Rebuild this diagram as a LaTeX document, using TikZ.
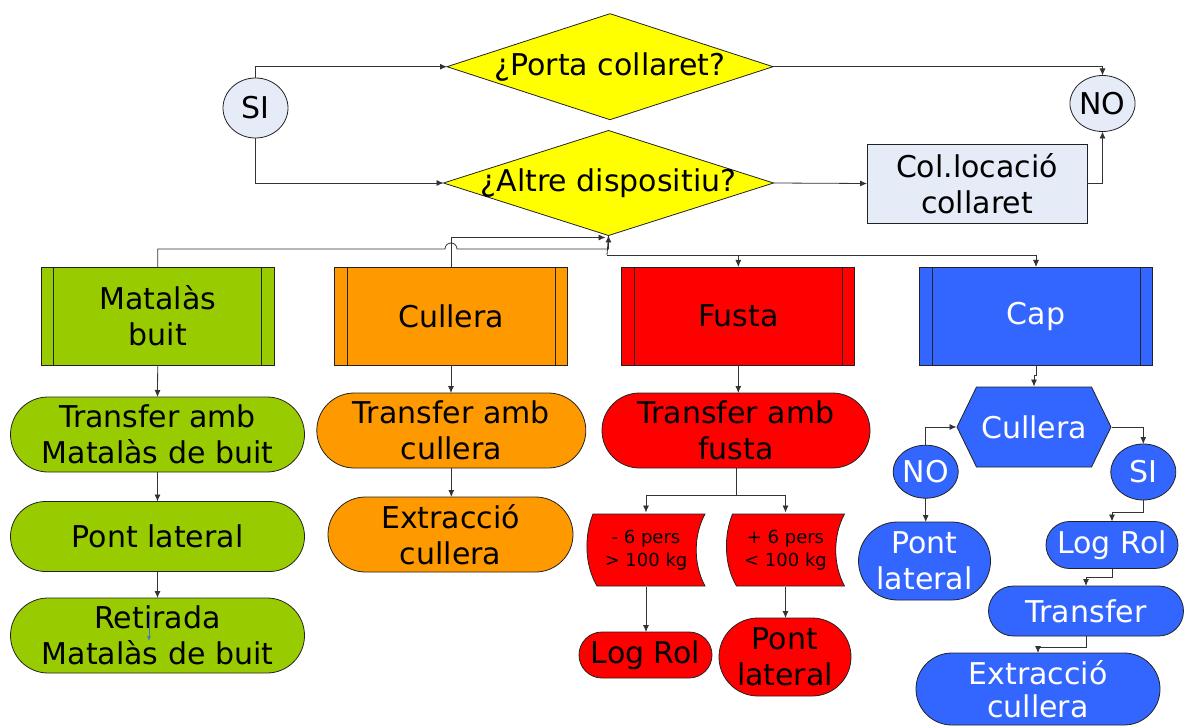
\documentclass[tikz,border=0pt]{standalone}
\usepackage{fontspec}
\setmainfont{DejaVu Sans}
\usetikzlibrary{shapes.geometric,arrows.meta,calc}
\definecolor{ygreen}{HTML}{99CC00}
\definecolor{orng}{HTML}{FF9900}
\definecolor{rred}{HTML}{FF0000}
\definecolor{cblue}{HTML}{3366FF}
\definecolor{lite}{HTML}{E6ECF7}
\definecolor{yel}{HTML}{FFFF00}
\definecolor{edge}{HTML}{222222}
\definecolor{wire}{HTML}{333333}
\begin{document}
\begin{tikzpicture}[x=1pt,y=-1pt,
  txt/.style={font=\fontsize{30}{36}\selectfont, align=center, inner sep=0pt, outer sep=0pt},
  base/.style={txt, draw=edge, line width=0.8pt},
  oval/.style n args={2}{base, ellipse, minimum width=#1, minimum height=#2},
  decision/.style n args={2}{draw=edge, line width=0.8pt, diamond, fill=yel, inner sep=0pt, outer sep=0pt, minimum width=#1, minimum height=#2},
  procbox/.style={base, rectangle, minimum width=233pt, minimum height=98pt,
    path picture={
      \draw[edge, line width=0.8pt] ([xshift=12.5pt]path picture bounding box.north west) -- ([xshift=12.5pt]path picture bounding box.south west);
      \draw[edge, line width=0.8pt] ([xshift=-12.5pt]path picture bounding box.north east) -- ([xshift=-12.5pt]path picture bounding box.south east);}},
  stad/.style n args={3}{base, rectangle, minimum width=#1, minimum height=#2, rounded corners=#3},
  hexnode/.style={txt, rectangle, minimum width=155pt, minimum height=81pt,
    path picture={
      \filldraw[fill=cblue, draw=edge, line width=0.8pt]
        ([xshift=20pt,yshift=-0.5pt]path picture bounding box.north west) --
        ([xshift=-20pt,yshift=-0.5pt]path picture bounding box.north east) --
        ([xshift=-0.5pt]path picture bounding box.east) --
        ([xshift=-20pt,yshift=0.5pt]path picture bounding box.south east) --
        ([xshift=20pt,yshift=0.5pt]path picture bounding box.south west) --
        ([xshift=0.5pt]path picture bounding box.west) -- cycle;}},
  tapenode/.style={rectangle, inner sep=0pt, outer sep=0pt, align=center,
    font=\fontsize{18}{23.5}\selectfont, minimum width=120pt, minimum height=73pt,
    path picture={
      \filldraw[fill=rred, draw=edge, line width=0.8pt]
        ([xshift=7pt,yshift=-0.5pt]path picture bounding box.north west) --
        ([xshift=-1pt,yshift=-0.5pt]path picture bounding box.north east)
        .. controls ([xshift=-12.7pt,yshift=-22pt]path picture bounding box.north east)
           and ([xshift=-12.7pt,yshift=22pt]path picture bounding box.south east) ..
        ([xshift=-1pt,yshift=0.5pt]path picture bounding box.south east) --
        ([xshift=11pt,yshift=0.5pt]path picture bounding box.south west)
        .. controls ([xshift=-1.7pt,yshift=22pt]path picture bounding box.south west)
           and ([xshift=-1.7pt,yshift=-22pt]path picture bounding box.north west) ..
        ([xshift=7pt,yshift=-0.5pt]path picture bounding box.north west) -- cycle;}},
  conn/.style={draw=wire, line width=0.8pt, -{Latex[length=7pt,width=6pt]}},
  plain/.style={draw=wire, line width=0.8pt}
]
\useasboundingbox (0,0) rectangle (1185,727);
\clip (0,0) rectangle (1185,727);

% top part
\node[oval={65pt}{60pt}, fill=lite] (si) at (255.5,108) {SI};
\node[oval={63pt}{56pt}, fill=lite] (no) at (1102.5,103.5) {NO};
\node[decision={326pt}{106pt}] (dia1) at (610,66.7) {};
\node[txt] (dia1t) at (dia1) {¿Porta collaret?};
\node[decision={330pt}{105pt}] (dia2) at (608.5,183) {};
\node[txt] (dia2t) at (dia2) {¿Altre dispositiu?};
\node[base, rectangle, fill=lite, minimum width=220pt, minimum height=79pt] (col) at (977,183.5) {Col.locació\\collaret};

\draw[conn] (si.north) |- (dia1.west);
\draw[conn] (si.south) |- (dia2.west);
\draw[conn] (dia1.east) -| (no.north);
\draw[conn] (dia2.east) -- (col.west);
\draw[conn] (col.east) -| (no.south);

% category boxes
\node[procbox, fill=ygreen] (mat) at (157.7,316) {Matalàs\\buit};
\node[procbox, fill=orng] (cul) at (451,316) {Cullera};
\node[procbox, fill=rred] (fus) at (738.3,316) {Fusta};
\node[procbox, fill=cblue, text=white] (cap) at (1036,316) {Cap};

\coordinate (hop) at (451,249);
\coordinate (fj) at (607,255);
\draw[conn] (mat.north) -- (mat.north |- hop) -- ([xshift=-6pt]hop)
   arc[start angle=180, end angle=0, radius=6pt] -- (dia2.south |- hop) -- (dia2.south);
\draw[conn] (cul.north) |- ($(dia2.south)+(-3,2)$);
\draw[plain] (dia2.south) -- (fj);
\draw[conn] (fj) -| (fus.north);
\draw[conn] (fj) -| (cap.north);

% green column
\node[stad={294pt}{75pt}{37.5pt}, fill=ygreen] (g1) at (157.5,434.5) {Transfer amb\\Matalàs de buit};
\node[stad={294pt}{70pt}{35pt}, fill=ygreen] (g2) at (157.5,536.5) {Pont lateral};
\node[stad={294pt}{75pt}{37.5pt}, fill=ygreen] (g3) at (157.5,635.5) {Retirada\\Matalàs de buit};
\draw[conn] (mat.south) -- (g1.north);
\draw[conn] (g1.south) -- (g2.north);
\draw[conn] (g2.south) -- (g3.north);
\coordinate (bl1) at (149,612);
\coordinate (bl2) at (149,641);
\draw[draw=cblue!70!gray, line width=0.7pt, -{Latex[length=5pt,width=4pt]}] (bl1) -- (bl2);

% orange column
\node[stad={269pt}{75pt}{37.5pt}, fill=orng] (o1) at (451.3,430.5) {Transfer amb\\cullera};
\node[stad={245pt}{75pt}{37.5pt}, fill=orng] (o2) at (450.5,534.5) {Extracció\\cullera};
\draw[conn] (cul.south) -- (cul.south |- o1.north);
\draw[conn] (o1.south) -- (o1.south |- o2.north);

% red column
\node[stad={268pt}{75pt}{37.5pt}, fill=rred] (tf) at (736,430.5) {Transfer amb\\fusta};
\node[tapenode] (tp1) at (646,550) {- 6 pers\\> 100 kg};
\node[tapenode] (tp2) at (785.5,550) {+ 6 pers\\< 100 kg};
\node[stad={133pt}{46pt}{23pt}, fill=rred] (lr) at (645.5,655) {Log Rol};
\node[stad={132pt}{78pt}{39pt}, fill=rred] (pl) at (785,657) {Pont\\lateral};
\coordinate (tj) at (736,495);
\draw[conn] (fus.south) -- (fus.south |- tf.north);
\draw[plain] (tf.south) -- (tj);
\draw[conn] (tj) -| ([yshift=1pt]tp1.north);
\draw[conn] (tj) -| ([yshift=1pt]tp2.north);
\draw[conn] (tp1.south) -- (tp1.south |- lr.north);
\draw[conn] (tp2.south) -- (tp2.south |- pl.north);

% blue column
\node[hexnode, text=white] (hex) at (1034,427) {Cullera};
\node[oval={63pt}{53pt}, fill=cblue, text=white] (no2) at (925.7,471.7) {NO};
\node[oval={65pt}{56pt}, fill=cblue, text=white] (si2) at (1143.3,472) {SI};
\node[stad={132pt}{78pt}{39pt}, fill=cblue, text=white] (pl2) at (924.5,561) {Pont\\lateral};
\node[stad={132pt}{47pt}{23.5pt}, fill=cblue, text=white] (lr2) at (1112,545) {Log Rol};
\node[stad={195pt}{50pt}{25pt}, fill=cblue, text=white] (tr2) at (1086,611) {Transfer};
\node[stad={244pt}{72pt}{36pt}, fill=cblue, text=white, font=\fontsize{30}{33}\selectfont] (ex2) at (1038,689) {Extracció\\cullera};

\draw[conn] (cap.south) -- ++(0,10) -| (hex.north);
\draw[conn] (no2.north) |- (hex.west);
\draw[conn] (hex.east) -| (si2.north);
\draw[conn] (no2.south) -- (no2.south |- pl2.north);
\draw[conn] (si2.south) -- ++(0,12) -| (lr2.north);
\draw[conn] (lr2.south) -- ++(0,9) -| (tr2.north);
\draw[conn] (tr2.south) -- ++(0,11) -| (ex2.north);
\end{tikzpicture}
\end{document}
